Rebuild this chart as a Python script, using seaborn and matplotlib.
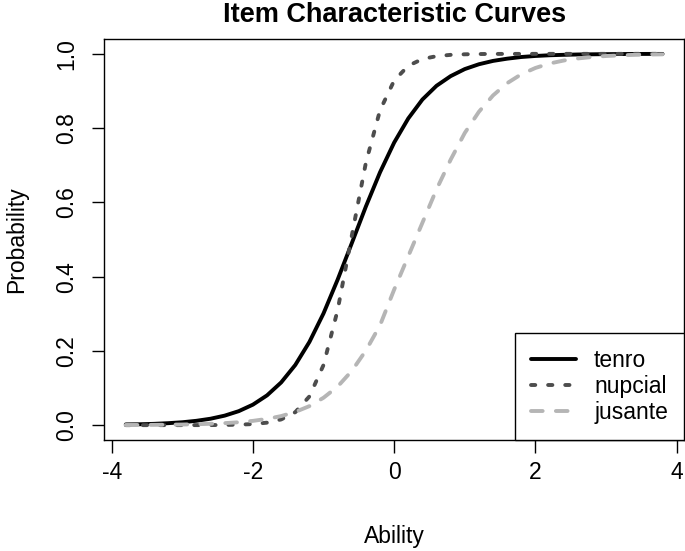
import matplotlib
matplotlib.use("Agg")
import matplotlib.pyplot as plt
import seaborn as sns
import pandas as pd

# values
ability = [-3.8, -3.6, -3.4, -3.2, -3.0, -2.8, -2.6, -2.4, -2.2, -2.0,
           -1.8, -1.6, -1.4, -1.2, -1.0, -0.8, -0.6, -0.4, -0.2, 0.0,
           0.2, 0.4, 0.6, 0.8, 1.0, 1.2, 1.4, 1.6, 1.8, 2.0,
           2.2, 2.4, 2.6, 2.8, 3.0, 3.2, 3.4, 3.6, 3.8]
tenro = [0.002, 0.0024, 0.0035, 0.0053, 0.0078, 0.0117, 0.0173, 0.0256, 0.0377, 0.0552,
         0.0802, 0.115, 0.162, 0.224, 0.301, 0.392, 0.490, 0.589, 0.681, 0.761,
         0.826, 0.877, 0.914, 0.940, 0.959, 0.972, 0.981, 0.987, 0.9915, 0.9943,
         0.9962, 0.9974, 0.9983, 0.9988, 0.9992, 0.9995, 0.9997, 0.9998, 0.9998]
nupcial = [0.0, 0.0, 0.00001, 0.00002, 0.00004, 0.0001, 0.0002, 0.0005, 0.0013, 0.0029,
           0.0067, 0.0154, 0.0349, 0.0773, 0.162, 0.310, 0.510, 0.707, 0.848, 0.928,
           0.968, 0.986, 0.9938, 0.9973, 0.9988, 0.9995, 0.9998, 0.9999, 0.9999, 1.0,
           1.0, 1.0, 1.0, 1.0, 1.0, 1.0, 1.0, 1.0, 1.0]
jusante = [0.0004, 0.0005, 0.0008, 0.0012, 0.0017, 0.0025, 0.0037, 0.0054, 0.0078, 0.0115,
           0.0168, 0.0244, 0.0356, 0.0512, 0.0738, 0.104, 0.146, 0.201, 0.269, 0.365,
           0.455, 0.545, 0.635, 0.715, 0.787, 0.844, 0.888, 0.921, 0.945, 0.962,
           0.974, 0.982, 0.9876, 0.9915, 0.9942, 0.9960, 0.9973, 0.9982, 0.9987]
items = ["tenro", "nupcial", "jusante"]
x_ticks = [-4, -2, 0, 2, 4]
y_ticks = [0.0, 0.2, 0.4, 0.6, 0.8, 1.0]

df = pd.DataFrame({
    "Ability": ability * 3,
    "Probability": tenro + nupcial + jusante,
    "item": [i for i in items for _ in ability],
})

sns.set_theme(style="ticks")
plt.rcParams["font.family"] = ["Liberation Sans", "DejaVu Sans"]
plt.rcParams["text.color"] = "black"
plt.rcParams["axes.labelcolor"] = "black"

fig = plt.figure(figsize=(6.85, 5.51), dpi=100)
ax = fig.add_axes([104.3 / 685, 111 / 551, 579.7 / 685, 401 / 551])

sns.lineplot(data=df, x="Ability", y="Probability", hue="item", style="item",
             palette={"tenro": "black", "nupcial": "#4d4d4d", "jusante": "#b5b5b5"},
             dashes={"tenro": "", "nupcial": (1.1, 3.3), "jusante": (3.0, 3.4)},
             lw=2.8, legend=False, ax=ax)
for line in ax.lines:
    line.set_dash_capstyle("round")
    line.set_solid_capstyle("round")

ax.set_xlim(-4.104, 4.104)
ax.set_ylim(-0.04, 1.04)
ax.set_xticks(x_ticks)
ax.set_xticklabels([str(t) for t in x_ticks])
ax.set_yticks(y_ticks)
ax.set_yticklabels([f"{t:.1f}" for t in y_ticks], rotation=90, va="center")
ax.tick_params(axis="both", direction="out", length=9, width=1, color="black",
               labelsize=16.5, labelcolor="black")
ax.tick_params(axis="x", pad=6)
ax.tick_params(axis="y", pad=10)
for s in ax.spines.values():
    s.set_visible(True)
    s.set_color("black")
    s.set_linewidth(1.0)

ax.set_xlabel("Ability", fontsize=16.5, va="center")
ax.xaxis.set_label_coords(0.5, (440 - 537) / 401)
ax.set_ylabel("Probability", fontsize=16.5, va="center")
ax.yaxis.set_label_coords((17 - 104.3) / 579.7, 0.5)
ax.set_title("Item Characteristic Curves", fontsize=19.5, fontweight="bold",
             y=(440 - 15) / 401, va="center", pad=0)

leg = ax.legend(ax.lines[:3], items, loc="lower right", borderaxespad=0,
                fancybox=False, edgecolor="black", framealpha=1, fontsize=16.5,
                handlelength=1.95, borderpad=0.7, labelspacing=0.14, handletextpad=0.8)
leg.get_frame().set_linewidth(1.0)

fig.savefig("out.png", dpi=100)
